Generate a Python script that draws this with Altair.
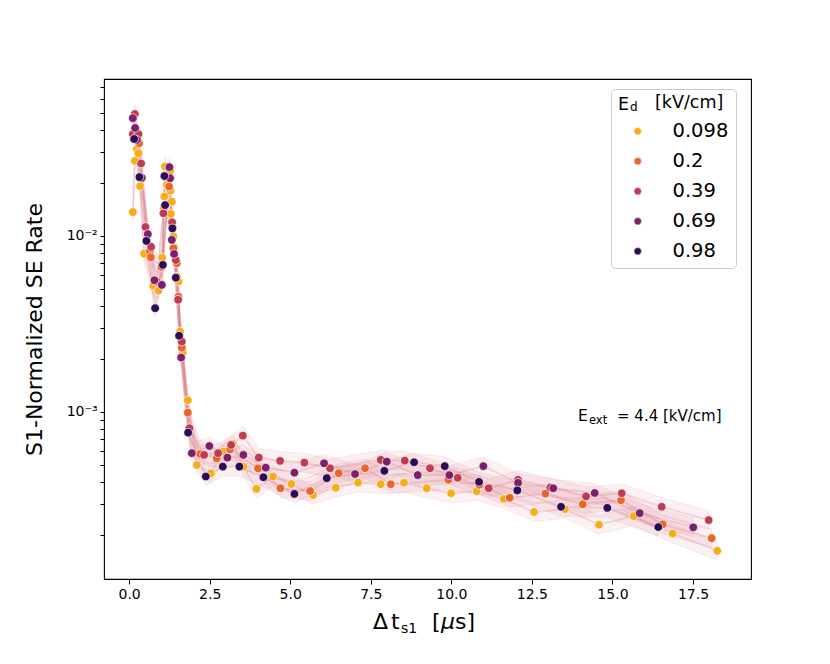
import altair as alt
import pandas as pd

# ---------------- data ----------------
ED_LEVELS = ["0.098", "0.2", "0.39", "0.69", "0.98"]
ED_COLORS = ["#f6ad1d", "#e9652a", "#c03a51", "#7e1f6c", "#2d0c55"]

T_0098 = [0.115, 0.177, 0.239, 0.289, 0.341, 0.465, 0.754, 0.909, 1.024, 1.077,
          1.095, 1.117, 1.170, 1.272, 1.280, 1.294, 1.325, 1.374, 1.406, 1.480,
          1.530, 1.582, 1.666, 1.821, 2.100, 2.535, 2.926, 3.217, 3.546, 3.950,
          4.468, 5.035, 5.709, 6.413, 7.105, 7.809, 8.532, 9.237, 9.991, 10.788,
          11.626, 12.566, 13.528, 14.583, 15.660, 16.869, 18.253]
R_0098 = [0.0136, 0.0266, 0.0310, 0.0294, 0.0191, 0.00790, 0.00518, 0.00487, 0.00750, 0.0143,
          0.0167, 0.0247, 0.0194, 0.0233, 0.0180, 0.0133, 0.0156, 0.00988, 0.00855, 0.00585,
          0.00548, 0.00285, 0.00217, 0.00116, 0.000498, 0.000446, 0.000593, 0.000656, 0.000487, 0.000364,
          0.000428, 0.000388, 0.000336, 0.000370, 0.000395, 0.000387, 0.000395, 0.000367, 0.000344, 0.000353,
          0.000319, 0.000269, 0.000279, 0.000228, 0.000255, 0.000203, 0.000162]

T_02 = [0.310, 0.642, 0.673, 1.002, 1.241, 1.374, 1.480, 1.530, 1.635, 1.821,
        2.203, 2.721, 3.134, 4.002, 4.694, 5.616, 6.506, 7.322, 8.120, 9.907,
        10.869, 11.812, 12.917, 14.077, 15.265, 16.559, 18.079]
R_02 = [0.0335, 0.00819, 0.00753, 0.00664, 0.0190, 0.00848, 0.00697, 0.00450, 0.00231, 0.000987,
        0.000575, 0.000543, 0.000611, 0.000476, 0.000367, 0.000354, 0.000447, 0.000477, 0.000387, 0.000410,
        0.000384, 0.000324, 0.000342, 0.000298, 0.000314, 0.000229, 0.000191]

T_039 = [0.115, 0.177, 0.289, 0.372, 0.506, 0.683, 0.859, 1.064, 1.334, 1.449,
         1.520, 1.635, 1.871, 2.327, 2.761, 3.165, 3.528, 4.024, 4.685, 5.439,
         6.236, 7.809, 8.554, 9.339, 10.198, 11.160, 12.070, 13.072, 14.179, 15.287,
         16.528, 17.986]
R_039 = [0.0377, 0.0491, 0.0377, 0.0257, 0.0112, 0.00863, 0.00548, 0.0134, 0.0119, 0.00727,
         0.00432, 0.00250, 0.000805, 0.000568, 0.000581, 0.000647, 0.000731, 0.000548, 0.000525, 0.000513,
         0.000477, 0.000532, 0.000527, 0.000477, 0.000421, 0.000367, 0.000410, 0.000371, 0.000330, 0.000344,
         0.000288, 0.000242]

T_069 = [0.115, 0.186, 0.239, 0.394, 0.580, 0.785, 1.015, 1.250, 1.272, 1.325,
         1.396, 1.613, 1.945, 2.491, 3.050, 3.546, 4.241, 5.129, 6.050, 7.012,
         7.996, 8.957, 9.938, 10.993, 12.070, 13.165, 14.449, 15.845, 17.508]
R_069 = [0.0465, 0.0409, 0.0350, 0.0213, 0.0102, 0.00558, 0.00525, 0.0245, 0.0212, 0.00946,
         0.00787, 0.00203, 0.000581, 0.000638, 0.000548, 0.000568, 0.000481, 0.000450, 0.000509, 0.000442,
         0.000520, 0.000436, 0.000436, 0.000490, 0.000394, 0.000367, 0.000345, 0.000265, 0.000220]

T_098 = [0.155, 0.320, 0.537, 0.807, 1.046, 1.095, 1.117, 1.343, 1.449, 1.551,
         1.831, 2.380, 2.907, 3.422, 4.167, 5.129, 6.134, 7.921, 8.843, 9.795,
         10.859, 12.048, 13.404, 14.840, 16.423]
R_098 = [0.0354, 0.0215, 0.00933, 0.00387, 0.00682, 0.0218, 0.0149, 0.0110, 0.00577, 0.00270,
         0.000760, 0.000428, 0.000487, 0.000487, 0.000424, 0.000341, 0.000419, 0.000461, 0.000516, 0.000490,
         0.000399, 0.000357, 0.000288, 0.000284, 0.000221]

X_TICKS = [0.0, 2.5, 5.0, 7.5, 10.0, 12.5, 15.0, 17.5]
Y_TICKS = [2e-4, 3e-4, 4e-4, 5e-4, 6e-4, 7e-4, 8e-4, 9e-4,
           1e-3, 2e-3, 3e-3, 4e-3, 5e-3, 6e-3, 7e-3, 8e-3, 9e-3,
           1e-2, 2e-2, 3e-2, 4e-2, 5e-2, 6e-2, 7e-2]
BAND_FACTOR = 1.13

# ---------------- table ----------------
rows = []
for lev, ts, rs in zip(ED_LEVELS,
                       [T_0098, T_02, T_039, T_069, T_098],
                       [R_0098, R_02, R_039, R_069, R_098]):
    for t, r in zip(ts, rs):
        rows.append({"t": t, "rate": r, "Ed": lev})
df = pd.DataFrame(rows)

FONT = "DejaVu Sans"
W, H = 647, 500
OX, OY = 104, 79  # plot origin in page pixels (page margin 8 + padding)

xscale = alt.Scale(domain=[-0.78, 19.30], nice=False, zero=False)
yscale = alt.Scale(type="log", domain=[1.12e-4, 0.0776], nice=False)

xaxis = alt.Axis(values=X_TICKS, format=".1f", title=None, labelFontSize=14,
                 tickSize=5, labelPadding=3, grid=False)
yaxis = alt.Axis(values=Y_TICKS, title="S1-Normalized SE Rate", titleFontSize=22,
                 titleFontWeight="normal", titlePadding=20, labelFontSize=14,
                 tickSize=4, labelPadding=3, grid=False,
                 labelExpr="datum.value == 0.01 ? '10⁻²' : (datum.value == 0.001 ? '10⁻³' : '')")

BAND_COLOR = "#d0586a"

base = alt.Chart(df)

band = base.transform_calculate(
    lo=f"datum.rate / {BAND_FACTOR}", hi=f"datum.rate * {BAND_FACTOR}"
).mark_area(color=BAND_COLOR, fillOpacity=0.09, stroke=BAND_COLOR,
            strokeOpacity=0.1, strokeWidth=1).encode(
    x=alt.X("t:Q", scale=xscale, axis=xaxis),
    y=alt.Y("lo:Q", scale=yscale, axis=yaxis),
    y2="hi:Q",
    detail="Ed:N",
)

line = base.mark_line(color=BAND_COLOR, strokeOpacity=0.2, strokeWidth=1.8).encode(
    x=alt.X("t:Q", scale=xscale, axis=xaxis),
    y=alt.Y("rate:Q", scale=yscale, axis=yaxis),
    detail="Ed:N",
)

points = base.mark_circle(size=75, opacity=1, stroke="white", strokeWidth=0.7).encode(
    x=alt.X("t:Q", scale=xscale, axis=xaxis),
    y=alt.Y("rate:Q", scale=yscale, axis=yaxis),
    color=alt.Color("Ed:N", scale=alt.Scale(domain=ED_LEVELS, range=ED_COLORS),
                    legend=alt.Legend(
                        title="E", orient="none",
                        legendX=507, legendY=10, titleFontSize=17.5,
                        titleFontWeight="normal", titleColor="black",
                        labelFontSize=19.5, labelColor="black",
                        symbolType="circle", symbolSize=55, symbolOpacity=1,
                        symbolStrokeColor="white", symbolStrokeWidth=0.5,
                        padding=7, rowPadding=9.0, labelOffset=25, symbolOffset=10,
                        titlePadding=8, strokeColor="#cccccc",
                        cornerRadius=4)),
)


def txt(s, px, py, size, style="normal"):
    return alt.Chart(pd.DataFrame({"s": [s]})).mark_text(
        align="left", baseline="alphabetic", fontSize=size, font=FONT,
        fontStyle=style, color="black"
    ).encode(x=alt.value(px - OX), y=alt.value(py - OY), text="s:N")


texts = [
    # legend title rest
    txt("d", 630, 111, 12),
    txt("[kV/cm]", 655, 108, 17.5),
    # annotation
    txt("E", 578, 421, 15.5),
    txt("ext", 589, 424, 11.5),
    txt("= 4.4 [kV/cm]", 617, 421, 15),
    # x axis title
    txt("Δ", 373, 629, 22),
    txt("t", 391, 629, 22),
    txt("s1", 401, 633, 14),
    txt("[", 432, 629, 22),
    txt("μ", 441, 629, 22, "italic"),
    txt("s]", 455, 629, 22),
]

chart = alt.layer(band, line, points, *texts).properties(
    width=W, height=H,
    autosize=alt.AutoSizeParams(type="none"),
    padding={"left": OX - 8, "top": OY - 8, "right": 50, "bottom": 70},
).configure_view(stroke="black", strokeWidth=1.1).configure_axis(
    domain=False, tickColor="black", labelColor="black", titleColor="black",
    labelFont=FONT, titleFont=FONT
).configure_legend(labelFont=FONT, titleFont=FONT)

chart.save("out.html", embed_options={"renderer": "svg", "actions": False})
